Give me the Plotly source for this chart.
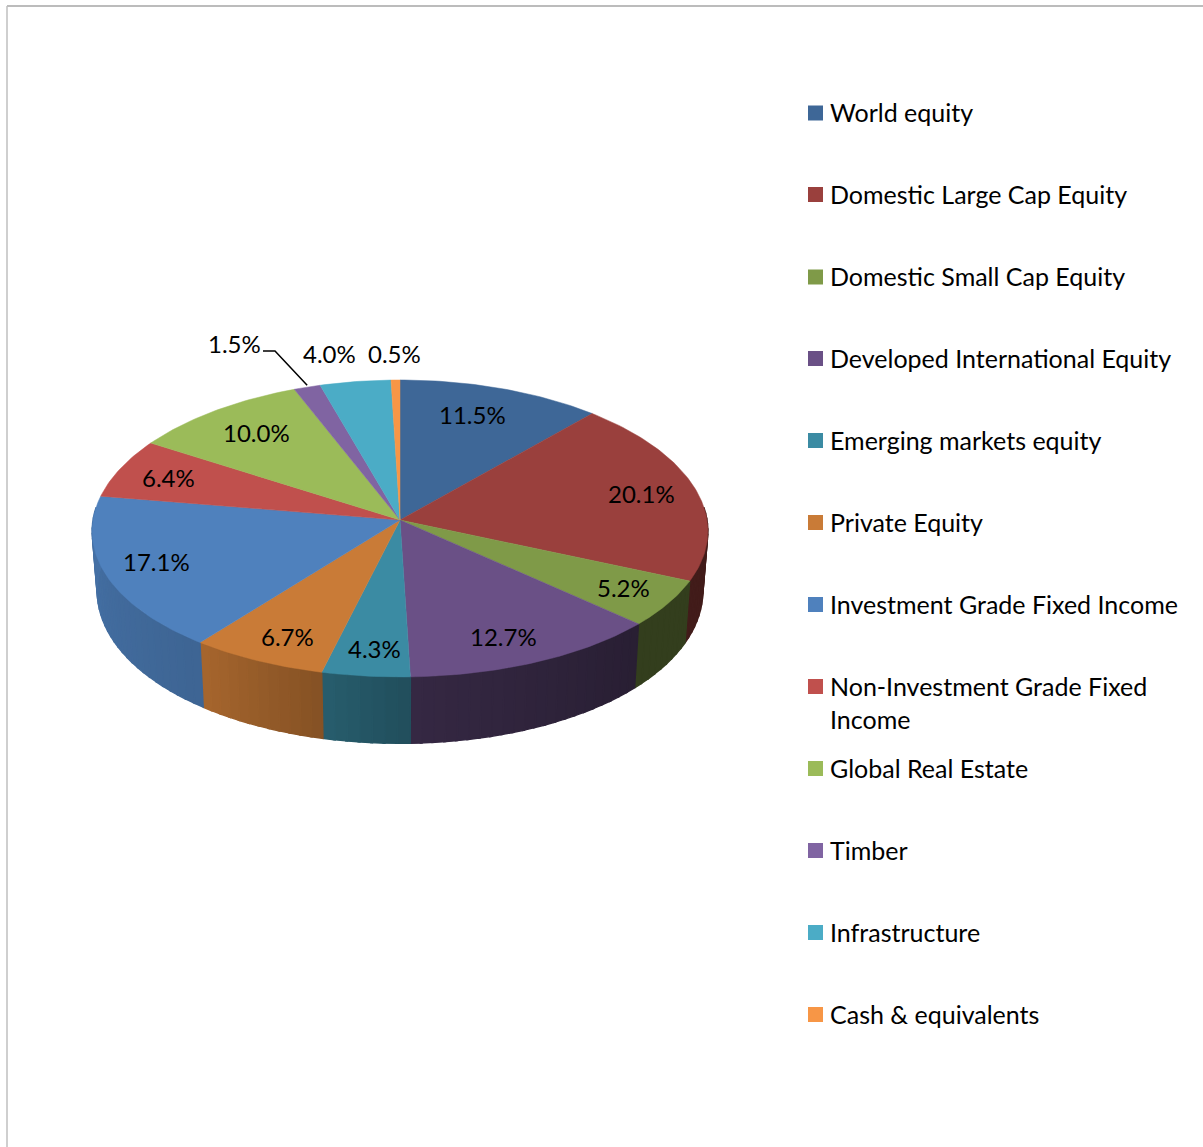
import math
import plotly.graph_objects as go

# ---- data -------------------------------------------------------------
categories = ["World equity", "Domestic Large Cap Equity", "Domestic Small Cap Equity",
              "Developed International Equity", "Emerging markets equity", "Private Equity",
              "Investment Grade Fixed Income", "Non-Investment Grade Fixed Income",
              "Global Real Estate", "Timber", "Infrastructure", "Cash & equivalents"]
values = [11.5, 20.1, 5.2, 12.7, 4.3, 6.7, 17.1, 6.4, 10.0, 1.5, 4.0, 0.5]

# ---- style ------------------------------------------------------------
colors = ["#3E6797", "#9A403D", "#7F9A48", "#6A5086", "#3B8BA3", "#C97B37",
          "#4F81BD", "#C0504D", "#9BBB59", "#8064A2", "#4BACC6", "#F79646"]
wall_shade = [(.43, .43), (.43, .43), (.40, .40), (.38, .50), (.56, .67), (.66, .83),
              (.78, .88), (.88, .9), (.9, .9), (.9, .9), (.9, .9), (.9, .9)]
label_pos = [(472, 414), (641, 493), (623, 587), (503, 636), (374, 648), (287, 636),
             (156, 561), (168, 477), (256, 432), (234, 343), (329, 353), (394, 353)]
legend_y = [112, 194, 276, 358, 440, 522, 604, 702.5, 768, 850, 932, 1014]
swatch_y = [113, 194.5, 277, 358.5, 440.5, 522.5, 604.5, 686.5, 768.5, 850.5, 932.5, 1014.5]
legend_text = [c.replace("Grade Fixed Income", "Grade Fixed<br>Income") if c.startswith("Non") else c
               for c in categories]
FONT = "Lato"
FS = 24
FS_LEGEND = 25

# ---- projection of the disc -------------------------------------------
CX = 400


def top(t):
    X, Y = math.sin(t), math.cos(t)
    return CX + 307 * X / (1 + 0.075 * Y), 520 - 148 * Y / (1 + 0.057 * Y)


def bottom(t):
    X, Y = math.sin(t), math.cos(t)
    return CX + 302 * X / (1 + 0.075 * Y), 579 - 155 * Y / (1 + 0.057 * Y)


def shade(hexc, f):
    r, g, b = (int(hexc[i:i + 2], 16) for i in (1, 3, 5))
    return f"rgb({round(r * f)},{round(g * f)},{round(b * f)})"


fig = go.Figure()
total = sum(values)
edges = [0.0]
for v in values:
    edges.append(edges[-1] + v / total * 2 * math.pi)

VIS0, VIS1 = math.radians(85), math.radians(275)

# outer wall strips
for i in range(len(values)):
    a0, a1 = max(edges[i], VIS0), min(edges[i + 1], VIS1)
    if a1 <= a0:
        continue
    n = max(2, int((a1 - a0) / math.radians(2)))
    f0, f1 = wall_shade[i]
    for k in range(n):
        s0 = a0 + (a1 - a0) * k / n
        s1 = a0 + (a1 - a0) * (k + 1.15 if k + 1 < n else k + 1) / n
        col = shade(colors[i], f0 + (f1 - f0) * (k + .5) / n)
        pts = [top(s0), top(s1), bottom(s1), bottom(s0), top(s0)]
        fig.add_trace(go.Scatter(x=[p[0] for p in pts], y=[p[1] for p in pts], mode="lines",
                                 fill="toself", fillcolor=col, line=dict(color=col, width=1.4),
                                 hoverinfo="skip", showlegend=False))

# top face
for i in range(len(values)):
    a0, a1 = edges[i], edges[i + 1]
    n = max(3, int((a1 - a0) / math.radians(1)))
    pts = [(CX, 520)] + [top(a0 + (a1 - a0) * k / n) for k in range(n + 1)] + [(CX, 520)]
    fig.add_trace(go.Scatter(x=[p[0] for p in pts], y=[p[1] for p in pts], mode="lines",
                             fill="toself", fillcolor=colors[i],
                             line=dict(color=colors[i], width=0.5),
                             name=categories[i], hoverinfo="skip", showlegend=False))

# leader line for the Timber label
mid_timber = (edges[9] + edges[10]) / 2
tip = top(mid_timber)
fig.add_trace(go.Scatter(x=[263, 275, tip[0]], y=[351, 351, tip[1] - 2], mode="lines",
                         line=dict(color="#000000", width=1.5), hoverinfo="skip", showlegend=False))

# legend swatches
fig.add_trace(go.Scatter(x=[815.5] * len(categories), y=swatch_y,
                         mode="markers", marker=dict(symbol="square", size=15, color=colors, line=dict(width=0)),
                         hoverinfo="skip", showlegend=False))

ann = []
for v, (x, y) in zip(values, label_pos):
    ann.append(dict(x=x, y=y, xref="x", yref="y", text=f"{v:.1f}%", showarrow=False,
                    xanchor="center", yanchor="middle", font=dict(family=FONT, size=FS, color="#000")))
for t, y in zip(legend_text, legend_y):
    ann.append(dict(x=828, y=y, xref="x", yref="y", text=t, showarrow=False, align="left",
                    xanchor="left", yanchor="middle", font=dict(family=FONT, size=FS_LEGEND, color="#000")))

frame = [dict(type="line", xref="x", yref="y", x0=7, x1=1203, y0=6, y1=6, line=dict(color="#A6A6A6", width=1.5)),
         dict(type="line", xref="x", yref="y", x0=7, x1=7, y0=6, y1=1147, line=dict(color="#BFBFBF", width=1.5))]

fig.update_layout(width=1203, height=1147, margin=dict(l=0, r=0, t=0, b=0),
                  paper_bgcolor="white", plot_bgcolor="white", showlegend=False,
                  annotations=ann, shapes=frame,
                  xaxis=dict(range=[0, 1203], visible=False, fixedrange=True),
                  yaxis=dict(range=[1147, 0], visible=False, fixedrange=True))

fig.write_html("out.html", config={"displayModeBar": False},
               post_script="document.body.style.margin='0';document.documentElement.style.overflow='hidden';")
